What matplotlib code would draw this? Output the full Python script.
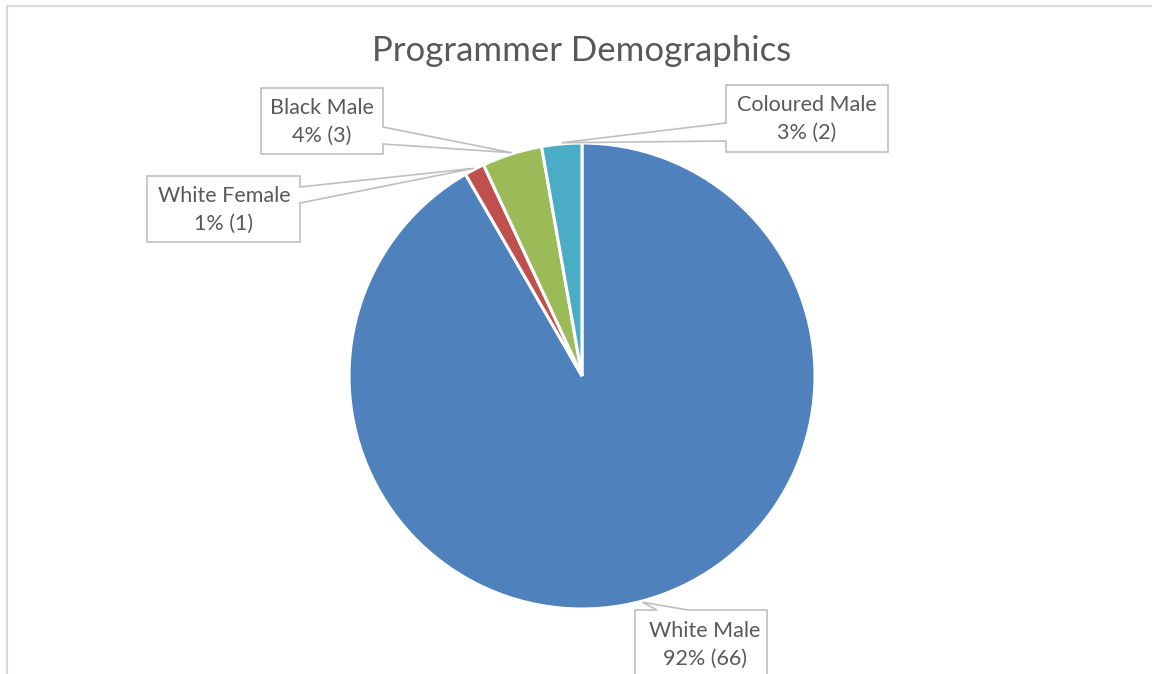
import numpy as np
import matplotlib.pyplot as plt
from matplotlib.patches import Polygon, Rectangle

plt.rcParams['font.family'] = ['Lato', 'DejaVu Sans']

W, H = 1152, 674

# ---------------- data ----------------
groups = ["White Male", "White Female", "Black Male", "Coloured Male"]
counts = [66, 1, 3, 2]
colors = ["#4F81BD", "#C0504D", "#9BBB59", "#4BACC6"]

# label boxes in pixel coords (x0, y0, x1, y1), y measured from the top
boxes = {
    "White Male":    (635, 610, 767, 700),
    "White Female":  (147, 176, 300, 242),
    "Black Male":    (261, 88, 383, 154),
    "Coloured Male": (726, 85, 888, 152),
}
# which side the pointer leaves from and where its base sits on that side
pointers = {
    "White Male":    ("top", 657, 688),
    "White Female":  ("right", 187, 203),
    "Black Male":    ("right", 127, 144),
    "Coloured Male": ("left", 123, 141),
}
text_pos = {
    "White Male":    (705, 645),
    "White Female":  (224, 210),
    "Black Male":    (322, 122),
    "Coloured Male": (807, 119),
}

txt_col = "#595959"
edge_col = "#BFBFBF"


def fy(y):
    # top-down pixel -> data y
    return H - y


def callout(ax, box, ptr, tip):
    x0, y0, x1, y1 = box
    side, a, b = ptr
    tx, ty = tip
    if side == "right":
        pts = [(x0, y0), (x1, y0), (x1, a), (tx, ty), (x1, b), (x1, y1), (x0, y1)]
    elif side == "left":
        pts = [(x0, y0), (x1, y0), (x1, y1), (x0, y1), (x0, b), (tx, ty), (x0, a)]
    else:  # top
        pts = [(x0, y0), (a, y0), (tx, ty), (b, y0), (x1, y0), (x1, y1), (x0, y1)]
    pts = [(x, fy(y)) for x, y in pts]
    ax.add_patch(Polygon(pts, closed=True, facecolor="white", edgecolor=edge_col,
                         linewidth=1.2, zorder=3))


fig = plt.figure(figsize=(W / 100, H / 100), dpi=100)
ax = fig.add_axes([0, 0, 1, 1])

cx, cy, R = 582, 376, 233
wedges, _ = ax.pie(counts, colors=colors, startangle=90, counterclock=False,
                   center=(cx, fy(cy)), radius=R,
                   wedgeprops=dict(edgecolor="white", linewidth=2.2))

ax.set_xlim(0, W)
ax.set_ylim(0, H)
ax.set_aspect("equal")
ax.axis("off")

# chart area frame (runs off the right and bottom edges)
ax.add_patch(Rectangle((7, fy(800)), 1400, 794, fill=False, edgecolor="#D9D9D9",
                       linewidth=1.5, zorder=0))

total = sum(counts)
for w, name, n in zip(wedges, groups, counts):
    mid = np.deg2rad((w.theta1 + w.theta2) / 2)
    tip = (cx + R * 1.005 * np.cos(mid), cy - R * 1.005 * np.sin(mid))
    callout(ax, boxes[name], pointers[name], tip)
    tx, ty = text_pos[name]
    ax.text(tx, fy(ty), f"{name}\n{round(100 * n / total)}% ({n})", ha="center",
            va="center", fontsize=15.5, color=txt_col, linespacing=1.5, zorder=4)

ax.text(582, fy(51), "Programmer Demographics", ha="center", va="center",
        fontsize=25, color=txt_col)

fig.savefig("out.png", dpi=100)
